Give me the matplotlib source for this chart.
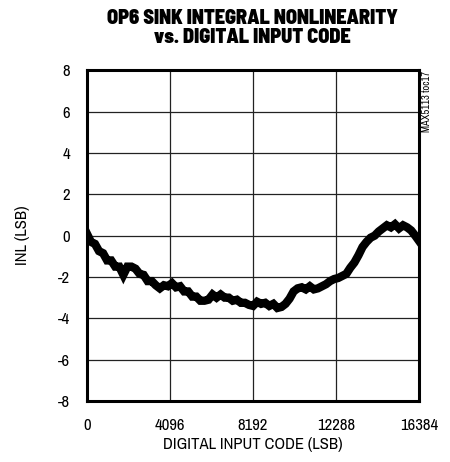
import matplotlib
matplotlib.use("Agg")
import matplotlib.pyplot as plt

# INL trace, one value every 200 codes (last at 16384)
code = list(range(0, 16384, 200)) + [16384]
inl = [0.1, -0.3, -0.4, -0.75, -0.85, -1.2, -1.2, -1.5, -1.5, -1.9,
       -1.5, -1.5, -1.6, -1.85, -1.9, -2.2, -2.2, -2.4, -2.55, -2.4,
       -2.45, -2.3, -2.5, -2.45, -2.7, -2.7, -2.95, -2.95, -3.15, -3.15,
       -3.1, -2.85, -3.0, -2.85, -3.0, -3.0, -3.15, -3.1, -3.25, -3.25,
       -3.35, -3.4, -3.2, -3.3, -3.25, -3.4, -3.3, -3.5, -3.45, -3.3,
       -3.05, -2.7, -2.55, -2.5, -2.6, -2.45, -2.6, -2.55, -2.45, -2.35,
       -2.2, -2.1, -2.05, -1.95, -1.85, -1.55, -1.3, -0.95, -0.55, -0.3,
       -0.1, 0.0, 0.2, 0.35, 0.5, 0.4, 0.55, 0.35, 0.5, 0.4,
       0.25, 0.0, -0.25]

xticks = [0, 4096, 8192, 12288, 16384]
yticks = [-8, -6, -4, -2, 0, 2, 4, 6, 8]

plt.rcParams['font.family'] = ['Archivo Narrow', 'Liberation Sans Narrow', 'DejaVu Sans']
plt.rcParams['axes.unicode_minus'] = False

fig = plt.figure(figsize=(4.5, 4.62), dpi=100)
ax = fig.add_axes([0.193, 0.132, 0.738, 0.716])

ax.plot(code, inl, color='black', lw=6, solid_joinstyle='miter')

ax.set_xlim(0, 16384)
ax.set_ylim(-8, 8)
ax.set_xticks(xticks)
ax.set_yticks(yticks)
ax.tick_params(length=0, labelsize=12, pad=12)
ax.grid(True, color='#222222', lw=0.9)
for s in ax.spines.values():
    s.set_linewidth(2.2)

ax.set_xlabel("DIGITAL INPUT CODE (LSB)", fontsize=12, labelpad=3)
ax.set_ylabel("INL (LSB)", fontsize=12, labelpad=20)

fig.text(0.56, 0.98, "OP6 SINK INTEGRAL NONLINEARITY\nvs. DIGITAL INPUT CODE",
         ha='center', va='top', fontsize=14.5, fontweight='black', linespacing=1.0,
         family=['Barlow Semi Condensed', 'Barlow Condensed', 'DejaVu Sans'])
fig.text(0.948, 0.847, "MAX5113 toc17", rotation=90, ha='center', va='top', fontsize=7.5)

fig.savefig("out.png", dpi=100)
